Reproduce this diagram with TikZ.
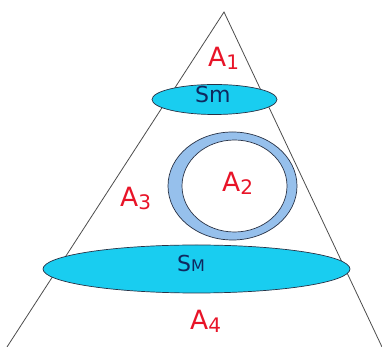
\documentclass[tikz,border=0pt]{standalone}
\usepackage{fontspec}
\setmainfont{DejaVu Sans}
\usetikzlibrary{shapes.geometric}
\definecolor{cyanfill}{RGB}{25,205,240}
\definecolor{ringfill}{RGB}{150,192,236}
\definecolor{navytext}{RGB}{15,40,95}
\definecolor{redtext}{RGB}{232,20,40}
\definecolor{edge}{RGB}{40,50,70}
\newcommand\sublab[2]{#1\raisebox{-3pt}{\fontsize{20}{20}\selectfont #2}}
\begin{document}
\begin{tikzpicture}[x=1pt,y=1pt,
  conel/.style={draw=black!70,line width=0.8pt},
  disc/.style={ellipse,draw=edge,line width=0.7pt,fill=cyanfill,inner sep=0pt},
  ringo/.style={ellipse,draw=edge,line width=0.7pt,fill=ringfill,inner sep=0pt},
  ringi/.style={ellipse,draw=edge,line width=0.7pt,fill=white,inner sep=0pt},
  alab/.style={text=redtext,font=\fontsize{26.5}{26.5}\selectfont,inner sep=0pt,anchor=base west},
  slab/.style={text=navytext,font=\fontsize{22}{22}\selectfont,inner sep=0pt,anchor=base west}]
\useasboundingbox (0,0) rectangle (382,347);
\coordinate (apex) at (224,335);
\coordinate (bl) at (7,0);
\coordinate (br) at (382,0);
\draw[conel] (bl) -- (apex) -- (br);
\node[disc,minimum width=125pt,minimum height=30pt] (small) at (214.5,247.5) {};
\node[ringo,minimum width=129pt,minimum height=108pt] (outer) at (232.5,161) {};
\node[ringi,minimum width=105pt,minimum height=92pt] (inner) at (234.5,161) {};
\node[disc,minimum width=307pt,minimum height=48pt] (big) at (196.5,78) {};
\node[slab] (sm) at (195,244) {Sm};
\node[slab] (sM) at (177,75) {S{\fontsize{16}{16}\selectfont M}};
\node[alab] (a1) at (208,280) {\sublab{A}{1}};
\node[alab] (a2) at (222,155) {\sublab{A}{2}};
\node[alab] (a3) at (120,140) {\sublab{A}{3}};
\node[alab] (a4) at (190,17) {\sublab{A}{4}};
\end{tikzpicture}
\end{document}
